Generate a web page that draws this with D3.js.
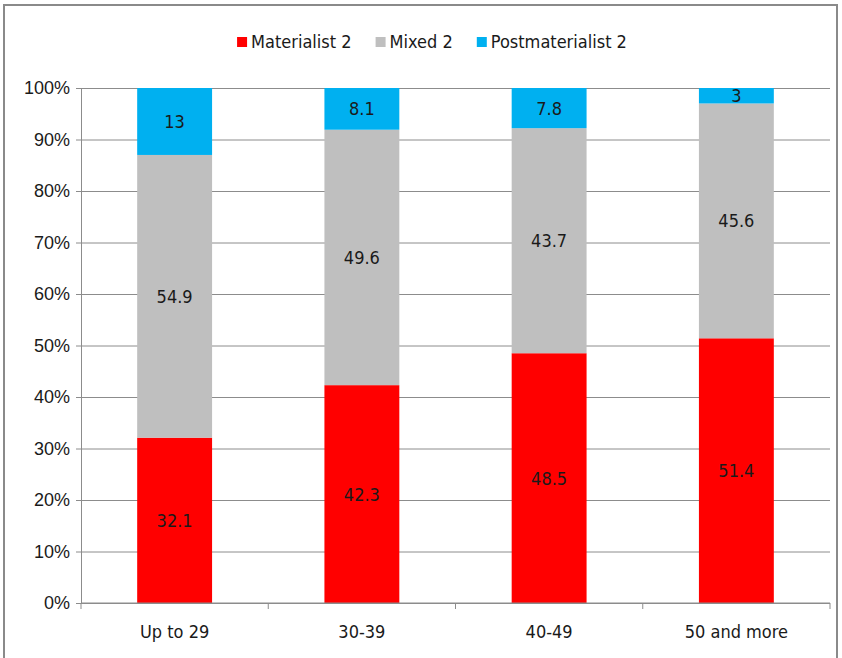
<!DOCTYPE html>
<html>
<head>
<meta charset="utf-8">
<script src="https://cdn.jsdelivr.net/npm/d3@7.9.0/dist/d3.min.js"></script>
<style>
  body { margin: 0; background: #fff; }
  svg { display: block; font-family: "Liberation Sans Narrow", "DejaVu Sans Condensed", "Liberation Sans", sans-serif; }
</style>
</head>
<body>
<div id="chart"></div>
<script>
const categories = ['Up to 29', '30-39', '40-49', '50 and more'];
const seriesNames = ['Materialist 2', 'Mixed 2', 'Postmaterialist 2'];
const materialist = [32.1, 42.3, 48.5, 51.4];
const mixed = [54.9, 49.6, 43.7, 45.6];
const postmaterialist = [13, 8.1, 7.8, 3];
const colors = ['#ff0000', '#bfbfbf', '#00b0f0'];
const yTicks = [0, 10, 20, 30, 40, 50, 60, 70, 80, 90, 100];

const width = 842, height = 658;
const margin = { top: 88, right: 12, bottom: 55, left: 81 };
const fontSize = 18;

const svg = d3.select('#chart').append('svg')
  .attr('width', width).attr('height', height);

// chart frame
svg.append('rect')
  .attr('x', 4).attr('y', 5)
  .attr('width', 833).attr('height', 660)
  .attr('fill', 'none').attr('stroke', '#8a8a8a').attr('stroke-width', 2);

const x = d3.scaleBand()
  .domain(categories)
  .range([margin.left, width - margin.right])
  .paddingInner(0.6).paddingOuter(0.3);

const xOuter = d3.scaleBand()
  .domain(categories)
  .range([margin.left, width - margin.right]);

const y = d3.scaleLinear()
  .domain([0, 100])
  .range([height - margin.bottom, margin.top]);

// gridlines
svg.append('g')
  .attr('transform', `translate(${margin.left},0)`)
  .call(d3.axisLeft(y).tickValues(yTicks).tickFormat('').tickSize(-(width - margin.right - margin.left)))
  .call(g => g.select('.domain').remove())
  .call(g => g.selectAll('line').attr('stroke', '#8c8c8c'));

const rows = categories.map((c, i) => ({
  cat: c, 'Materialist 2': materialist[i], 'Mixed 2': mixed[i], 'Postmaterialist 2': postmaterialist[i]
}));
const stack = d3.stack().keys(seriesNames)(rows);

const layers = svg.append('g').selectAll('g')
  .data(stack).join('g')
  .attr('fill', (d, i) => colors[i]);

layers.selectAll('rect')
  .data(d => d).join('rect')
  .attr('x', d => x(d.data.cat))
  .attr('width', x.bandwidth())
  .attr('y', d => y(d[1]))
  .attr('height', d => y(d[0]) - y(d[1]));

// value labels
layers.each(function(layer) {
  d3.select(this).selectAll('text')
    .data(layer).join('text')
    .attr('x', d => x(d.data.cat) + x.bandwidth() / 2)
    .attr('y', d => (y(d[0]) + y(d[1])) / 2)
    .attr('dy', '0.36em')
    .attr('text-anchor', 'middle')
    .attr('font-size', fontSize)
    .attr('fill', '#1a1a1a')
    .text(d => d.data[layer.key]);
});

// y axis
svg.append('g')
  .attr('transform', `translate(${margin.left},0)`)
  .call(d3.axisLeft(y).tickValues(yTicks).tickFormat(d => d + '%').tickSize(5).tickPadding(6))
  .call(g => g.select('.domain').attr('stroke', '#8c8c8c'))
  .call(g => g.selectAll('line').attr('stroke', '#8c8c8c'))
  .call(g => g.selectAll('text').attr('font-size', fontSize).attr('fill', '#1a1a1a').attr('font-family', null));

// x axis
const xAxis = svg.append('g')
  .attr('transform', `translate(0,${height - margin.bottom})`);
xAxis.append('line')
  .attr('x1', margin.left).attr('x2', width - margin.right)
  .attr('stroke', '#8c8c8c');
xAxis.selectAll('line.tick')
  .data(categories.concat(['end'])).join('line')
  .attr('class', 'tick')
  .attr('x1', (d, i) => i < categories.length ? xOuter(d) : width - margin.right)
  .attr('x2', (d, i) => i < categories.length ? xOuter(d) : width - margin.right)
  .attr('y1', 0).attr('y2', 6)
  .attr('stroke', '#8c8c8c');
xAxis.selectAll('text')
  .data(categories).join('text')
  .attr('x', d => xOuter(d) + xOuter.bandwidth() / 2)
  .attr('y', 35)
  .attr('text-anchor', 'middle')
  .attr('font-size', fontSize)
  .attr('fill', '#1a1a1a')
  .text(d => d);

// legend
const legend = svg.append('g').attr('transform', 'translate(0,42)');
const items = legend.selectAll('g').data(seriesNames).join('g');
items.append('rect')
  .attr('y', -5).attr('width', 10).attr('height', 10)
  .attr('fill', (d, i) => colors[i]);
items.append('text')
  .attr('x', 14).attr('dy', '0.36em')
  .attr('font-size', fontSize).attr('fill', '#1a1a1a')
  .text(d => d);
const widths = [];
items.each(function() { widths.push(this.getBBox().width); });
const gap = 24;
const total = d3.sum(widths) + gap * (widths.length - 1);
let cx = 432 - total / 2;
items.attr('transform', (d, i) => {
  const t = `translate(${cx},0)`;
  cx += widths[i] + gap;
  return t;
});
</script>
</body>
</html>
